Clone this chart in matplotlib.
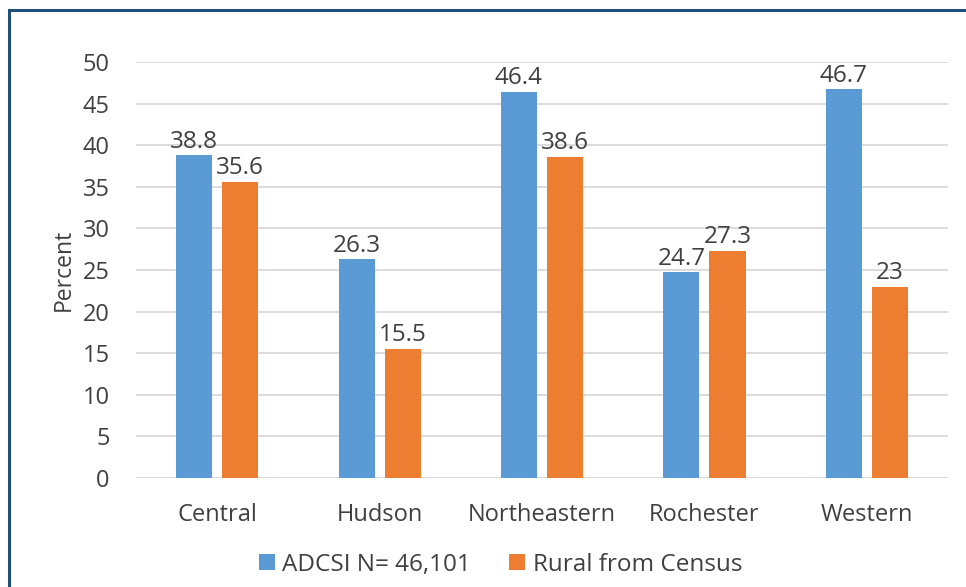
import matplotlib.pyplot as plt
import numpy as np
from matplotlib.patches import Rectangle

# Data
regions = ['Central', 'Hudson', 'Northeastern', 'Rochester', 'Western']
adcsi = [38.8, 26.3, 46.4, 24.7, 46.7]
rural = [35.6, 15.5, 38.6, 27.3, 23]
series_names = ['ADCSI N= 46,101', 'Rural from Census']

blue = '#5b9bd5'
orange = '#ed7d31'
text_color = '#404040'

plt.rcParams['font.family'] = ['Open Sans', 'DejaVu Sans']

fig = plt.figure(figsize=(9.66, 5.87), dpi=100)
ax = fig.add_axes([0.1408, 0.1857, 0.8406, 0.7087])

x = np.arange(len(regions))
w = 0.222
off = 0.142
b1 = ax.bar(x - off, adcsi, w, color=blue, label=series_names[0], zorder=3)
b2 = ax.bar(x + off, rural, w, color=orange, label=series_names[1], zorder=3)

for bars, vals in ((b1, adcsi), (b2, rural)):
    for rect, v in zip(bars, vals):
        ax.text(rect.get_x() + rect.get_width() / 2, v + 0.2, f'{v:g}',
                ha='center', va='bottom', fontsize=17.5, color=text_color)

ax.set_xlim(-0.5, len(regions) - 0.5)
ax.set_ylim(0, 50)
ax.set_yticks(range(0, 51, 5))
ax.set_xticks(x)
ax.set_xticklabels(regions)
ax.tick_params(axis='both', length=0, labelsize=17, labelcolor=text_color)
ax.tick_params(axis='x', pad=18)
ax.tick_params(axis='y', pad=19)
ax.yaxis.grid(True, color='#d9d9d9', linewidth=1.3, zorder=0)
for s in ax.spines.values():
    s.set_visible(False)
ax.axhline(0, color='#d9d9d9', linewidth=1.3, zorder=1)
ax.set_ylabel('Percent', fontsize=16.5, color=text_color, labelpad=5)

fig.legend(handles=[b1, b2], loc='center', bbox_to_anchor=(0.518, 0.038), ncol=2,
           frameon=False, fontsize=17.5, labelcolor=text_color, handlelength=0.65,
           handleheight=0.65, handletextpad=0.3, columnspacing=1.6)

# outer frame
fig.patches.append(Rectangle((9 / 966, -0.05), 1.0, 1 - 10 / 587 + 0.05,
                             transform=fig.transFigure, fill=False,
                             edgecolor='#1f4e79', linewidth=2.2))

plt.savefig('out.png', dpi=100)
